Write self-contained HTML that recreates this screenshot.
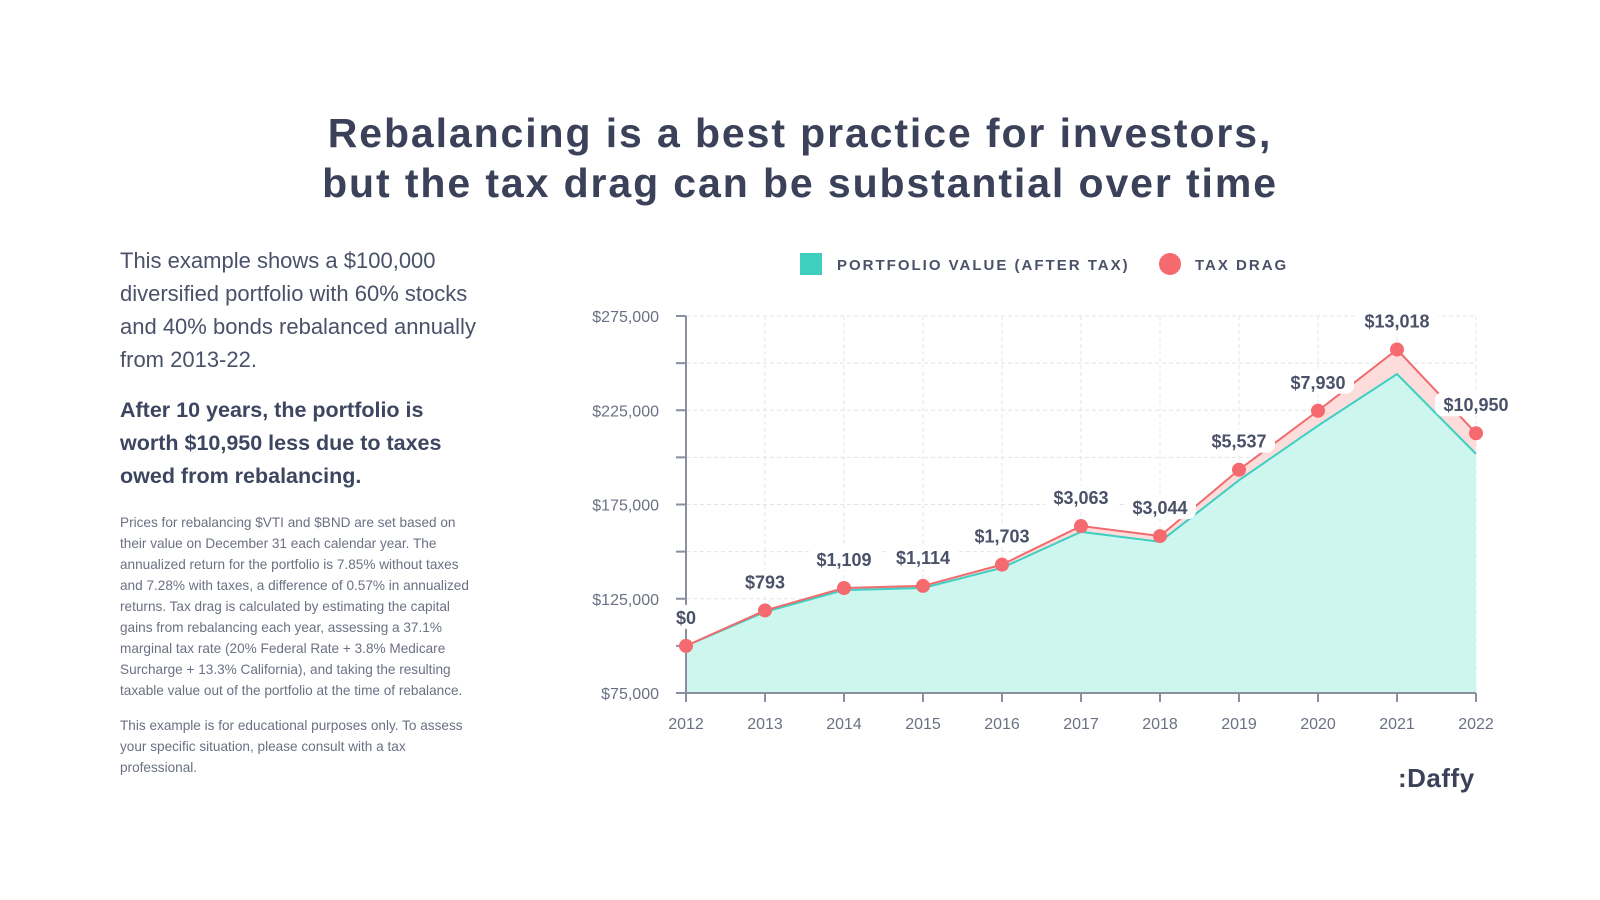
<!DOCTYPE html>
<html><head><meta charset="utf-8">
<style>
body{margin:0;width:1600px;height:900px;background:#fff;overflow:hidden;font-family:"Liberation Sans",sans-serif;color:#3d4660;position:relative}
#title{position:absolute;left:0;width:1600px;top:108px;text-align:center;font-weight:900;font-size:41px;line-height:50px;color:#3a4158;letter-spacing:1.9px}
.p{position:absolute;left:120px;width:380px}
#p1{top:244px;font-size:22px;line-height:33px;color:#4a5168}
#p2{top:394px;width:345px;font-size:21.5px;line-height:33px;font-weight:bold;color:#3d4660}
#p3{top:512px;width:362px;font-size:13.6px;line-height:21px;color:#6b7184}
#p4{top:715px;width:365px;font-size:13.6px;line-height:21px;color:#6b7184}
#logo{position:absolute;left:1398px;top:763px;font-weight:900;font-size:26px;letter-spacing:0.5px;color:#3a4158}
</style></head><body>
<div id="title">Rebalancing is a best practice for investors,<br>but the tax drag can be substantial over time</div>
<div class="p" id="p1">This example shows a $100,000 diversified portfolio with 60% stocks and 40% bonds rebalanced annually from 2013-22.</div>
<div class="p" id="p2">After 10 years, the portfolio is worth $10,950 less due to taxes owed from rebalancing.</div>
<div class="p" id="p3">Prices for rebalancing $VTI and $BND are set based on their value on December 31 each calendar year. The annualized return for the portfolio is 7.85% without taxes and 7.28% with taxes, a difference of 0.57% in annualized returns. Tax drag is calculated by estimating the capital gains from rebalancing each year, assessing a 37.1% marginal tax rate (20% Federal Rate + 3.8% Medicare Surcharge + 13.3% California), and taking the resulting taxable value out of the portfolio at the time of rebalance.</div>
<div class="p" id="p4">This example is for educational purposes only. To assess your specific situation, please consult with a tax professional.</div>
<div id="logo">:Daffy</div>
<svg id="chart" width="1600" height="900" style="position:absolute;left:0;top:0"></svg>
<script>
const years=['2012','2013','2014','2015','2016','2017','2018','2019','2020','2021','2022'];
const afterTax=[100000,118000,129600,130700,141400,160500,155200,187900,216800,244200,201850];
const taxDrag=[0,793,1109,1114,1703,3063,3044,5537,7930,13018,10950];
const dragLabels=['$0','$793','$1,109','$1,114','$1,703','$3,063','$3,044','$5,537','$7,930','$13,018','$10,950'];
const yTicks=[75000,100000,125000,150000,175000,200000,225000,250000,275000];
const yTickLabels=['$75,000','','$125,000','','$175,000','','$225,000','','$275,000'];
const NS='http://www.w3.org/2000/svg',svg=document.getElementById('chart');
const x0=686,x1=1476,y0=693,y1=316;
const X=i=>x0+(x1-x0)*i/(years.length-1);
const Y=v=>y0-(v-75000)/200000*(y0-y1);
function mk(t,a,p){const e=document.createElementNS(NS,t);for(const k in a)e.setAttribute(k,a[k]);(p||svg).appendChild(e);return e;}
yTicks.forEach((v,i)=>{
 const g=mk('line',{x1:x0,x2:x1,y1:Y(v),y2:Y(v),stroke:'#e3e4ea','stroke-dasharray':'4 3'});
 
 
 const t=mk('line',{x1:x0-10,x2:x0,y1:Y(v),y2:Y(v),stroke:'#8a8fa0','stroke-width':2});
 
 
 if(yTickLabels[i]){const l=mk('text',{x:x0-27,y:Y(v)+6,'text-anchor':'end','font-size':16,fill:'#6b7184','font-family':'Liberation Sans, sans-serif'});l.textContent=yTickLabels[i];
 
 }
});
years.forEach((y,i)=>{
 if(i>0){const g=mk('line',{x1:X(i),x2:X(i),y1:y1,y2:y0,stroke:'#e3e4ea','stroke-dasharray':'4 3'});
 
 }
 const t=mk('line',{x1:X(i),x2:X(i),y1:y0,y2:y0+9,stroke:'#8a8fa0','stroke-width':2});
 
 
 const l=mk('text',{x:X(i),y:y0+36,'text-anchor':'middle','font-size':16,fill:'#6b7184','font-family':'Liberation Sans, sans-serif'});l.textContent=y;
 
 
});
const topPts=afterTax.map((v,i)=>[X(i),Y(v+taxDrag[i])]),botPts=afterTax.map((v,i)=>[X(i),Y(v)]);
const dragArea=mk('path',{d:'M'+topPts.map(p=>p.join(',')).join('L')+'L'+botPts.slice().reverse().map(p=>p.join(',')).join('L')+'Z',fill:'#fddcdc'});


const area=mk('path',{d:'M'+botPts.map(p=>p.join(',')).join('L')+`L${X(years.length-1)},${y0}L${x0},${y0}Z`,fill:'#cdf6ef'});


const tl=mk('polyline',{points:botPts.map(p=>p.join(',')).join(' '),fill:'none',stroke:'#3ecfc0','stroke-width':2});


const rl=mk('polyline',{points:topPts.map(p=>p.join(',')).join(' '),fill:'none',stroke:'#f06a6e','stroke-width':2});


const ya=mk('line',{x1:x0,x2:x0,y1:y1,y2:y0,stroke:'#8a8fa0','stroke-width':2});


const xa=mk('line',{x1:x0,x2:x1,y1:y0,y2:y0,stroke:'#8a8fa0','stroke-width':2});


topPts.forEach((p,i)=>{
 const c=mk('circle',{cx:p[0],cy:p[1],r:7,fill:'#f46a6e'});
 
 
 const w=dragLabels[i].length*10+12;
 const r=mk('rect',{x:p[0]-w/2,y:p[1]-41,width:w,height:24,rx:8,fill:'#fff'});
 
 
 const t=mk('text',{x:p[0],y:p[1]-22,'text-anchor':'middle','font-size':18,'font-weight':'bold',fill:'#4a5168','font-family':'Liberation Sans, sans-serif'});
 t.textContent=dragLabels[i];
 
 
});
const ls=mk('rect',{x:800,y:253,width:22,height:22,fill:'#3ecfc0'});


const lt=mk('text',{x:837,y:270,'font-size':15,'font-weight':'bold','letter-spacing':'2',fill:'#4a5168','font-family':'Liberation Sans, sans-serif'});lt.textContent='PORTFOLIO VALUE (AFTER TAX)';


const lc=mk('circle',{cx:1170,cy:264,r:11,fill:'#f46a6e'});


const lt2=mk('text',{x:1195,y:270,'font-size':15,'font-weight':'bold','letter-spacing':'2',fill:'#4a5168','font-family':'Liberation Sans, sans-serif'});lt2.textContent='TAX DRAG';


</script>
</body></html>
